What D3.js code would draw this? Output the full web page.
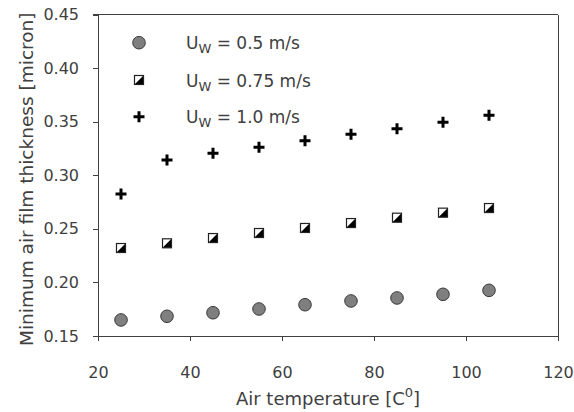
<!DOCTYPE html>
<html>
<head>
<meta charset="utf-8">
<script src="https://cdn.jsdelivr.net/npm/d3@7"></script>
<style>
  body { margin: 0; background: #fff; }
  svg { display: block; }
  text { font-family: "DejaVu Sans", sans-serif; fill: #404040; }
</style>
</head>
<body>
<svg id="chart" width="574" height="412"></svg>
<script>
const temperatures = [25, 35, 45, 55, 65, 75, 85, 95, 105];
const uw05 = [0.165, 0.1684, 0.1717, 0.1752, 0.1792, 0.1827, 0.1855, 0.1889, 0.1926];
const uw075 = [0.2321, 0.2365, 0.2414, 0.2461, 0.2508, 0.2554, 0.2604, 0.2651, 0.2694];
const uw10 = [0.2825, 0.3142, 0.3205, 0.3261, 0.3322, 0.3382, 0.3434, 0.3494, 0.3559];
const xTicks = [20, 40, 60, 80, 100, 120];
const yTicks = [0.15, 0.20, 0.25, 0.30, 0.35, 0.40, 0.45];
const legendLabels = [" = 0.5 m/s", " = 0.75 m/s", " = 1.0 m/s"];

const W = 574, H = 412;
const margin = {left: 98, top: 14.5, right: 16, bottom: 76};
const svg = d3.select("#chart");
const x = d3.scaleLinear().domain([20, 120]).range([margin.left, W - margin.right]);
const y = d3.scaleLinear().domain([0.15, 0.45]).range([H - margin.bottom, margin.top]);

const axisColor = "#404040";

// Frame (top and right)
svg.append("line").attr("x1", x(20) - 5).attr("x2", x(120)).attr("y1", y(0.45)).attr("y2", y(0.45))
  .attr("stroke", axisColor).attr("stroke-width", 1).attr("shape-rendering", "crispEdges");
svg.append("line").attr("x1", x(120)).attr("x2", x(120)).attr("y1", y(0.45)).attr("y2", y(0.15))
  .attr("stroke", axisColor).attr("stroke-width", 1).attr("shape-rendering", "crispEdges");

const gx = svg.append("g").attr("transform", `translate(0,${y(0.15)})`)
  .call(d3.axisBottom(x).tickValues(xTicks).tickSize(5).tickSizeOuter(0).tickPadding(26).tickFormat(d3.format("d")));
const gy = svg.append("g").attr("transform", `translate(${x(20)},0)`)
  .call(d3.axisLeft(y).tickValues(yTicks).tickSize(5).tickSizeOuter(0).tickPadding(14).tickFormat(d3.format(".2f")));
[gx, gy].forEach(g => {
  g.select(".domain").attr("stroke", axisColor).attr("shape-rendering", "crispEdges");
  g.selectAll(".tick line").attr("stroke", axisColor).attr("shape-rendering", "crispEdges");
  g.selectAll("text").attr("font-size", 16).attr("font-family", "DejaVu Sans, sans-serif").attr("fill", "#404040");
});

// Axis titles
const xt = svg.append("text").attr("x", (x(20) + x(120)) / 2).attr("y", 405)
  .attr("text-anchor", "middle").attr("font-size", 18);
xt.append("tspan").text("Air temperature [C");
xt.append("tspan").attr("font-size", 13).attr("dy", -8).text("0");
xt.append("tspan").attr("dy", 8).text("]");

svg.append("text").attr("transform", `translate(33,${(y(0.15) + y(0.45)) / 2 + 4}) rotate(-90)`)
  .attr("text-anchor", "middle").attr("font-size", 18.5)
  .text("Minimum air film thickness [micron]");

// Marker drawers
function drawCircle(g, cx, cy) {
  g.append("circle").attr("cx", cx).attr("cy", cy).attr("r", 6.3)
    .attr("fill", "#7f7f7f").attr("stroke", "#3a3a3a").attr("stroke-width", 1);
}
function drawSquare(g, cx, cy) {
  const s = 9;
  const x0 = cx - s / 2, y0 = cy - s / 2;
  g.append("rect").attr("x", x0).attr("y", y0).attr("width", s).attr("height", s)
    .attr("fill", "#fff");
  g.append("path").attr("d", `M${x0 + s},${y0} L${x0 + s},${y0 + s} L${x0},${y0 + s} Z`).attr("fill", "#000");
  g.append("rect").attr("x", x0).attr("y", y0).attr("width", s).attr("height", s)
    .attr("fill", "none").attr("stroke", "#222").attr("stroke-width", 1.2);
}
function drawPlus(g, cx, cy) {
  const a = 5.5;
  g.append("path").attr("d", `M${cx - a},${cy} H${cx + a} M${cx},${cy - a} V${cy + a}`)
    .attr("stroke", "#000").attr("stroke-width", 3).attr("fill", "none");
}

const series = [
  {values: uw05, draw: drawCircle},
  {values: uw075, draw: drawSquare},
  {values: uw10, draw: drawPlus}
];
const plot = svg.append("g");
series.forEach(s => {
  s.values.forEach((v, i) => s.draw(plot, x(temperatures[i]), y(v)));
});

// Legend
const legendY = [42.7, 80, 116.7];
const leg = svg.append("g");
series.forEach((s, i) => {
  s.draw(leg, 139, legendY[i]);
  const t = leg.append("text").attr("x", 186).attr("y", legendY[i] + 6.5).attr("font-size", 17);
  t.append("tspan").text("U");
  t.append("tspan").attr("font-size", 13).attr("dy", 4).text("W");
  t.append("tspan").attr("dy", -4).text(legendLabels[i]);
});
</script>
</body>
</html>
